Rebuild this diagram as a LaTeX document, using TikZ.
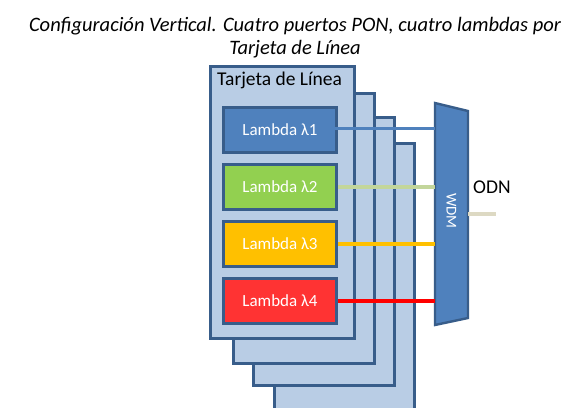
\documentclass[tikz,border=0pt]{standalone}
\usepackage{fontspec}
\setmainfont{Carlito}
\definecolor{cardfill}{HTML}{B9CDE5}
\definecolor{cardline}{HTML}{385D8A}
\definecolor{blueA}{HTML}{4F81BD}
\definecolor{greenA}{HTML}{92D050}
\definecolor{orangeA}{HTML}{FFC000}
\definecolor{redA}{HTML}{FF3333}
\definecolor{lgreen}{HTML}{C3D69B}
\definecolor{odnline}{HTML}{DDD9C3}
\begin{document}
\begin{tikzpicture}[x=1pt,y=-1pt,
  card/.style={draw=cardline,fill=cardfill,line width=3pt,anchor=north west,inner sep=0pt,minimum width=#1},
  lam/.style={draw=cardline,line width=3pt,anchor=north west,inner sep=0pt,minimum width=113pt,minimum height=45pt,text=white,font=\fontsize{17}{19}\selectfont},
  wire/.style={line width=3.2pt}]
\useasboundingbox (0,0) rectangle (581,407);
\clip (0,0) rectangle (581,407);
\node[font=\itshape\fontsize{20.5}{23}\selectfont,align=center] (title) at (295,38)
  {Configuración Vertical. Cuatro puertos PON, cuatro lambdas por\\Tarjeta de Línea};
\node[card=140pt,minimum height=280pt] (c4) at (273,142) {};
\node[card=141pt,minimum height=268pt] (c3) at (252,116) {};
\node[card=141pt,minimum height=270pt] (c2) at (232,92) {};
\node[card=144pt,minimum height=272pt] (c1) at (209,65) {};
\node[font=\fontsize{19.5}{21}\selectfont,anchor=base west,inner sep=0pt] (ct) at (217,85) {Tarjeta de Línea};
\node[lam,fill=blueA] (l1) at (222,106) {Lambda λ1};
\node[lam,fill=greenA] (l2) at (222,163) {Lambda λ2};
\node[lam,fill=orangeA] (l3) at (222,220) {Lambda λ3};
\node[lam,fill=redA] (l4) at (222,277) {Lambda λ4};
\coordinate (w1) at (435,103);
\coordinate (w2) at (468,111);
\coordinate (w3) at (468,318);
\coordinate (w4) at (435,325);
\draw[draw=cardline,fill=blueA,line width=2.4pt,line join=miter] (w1) -- (w2) -- (w3) -- (w4) -- cycle;
\node[rotate=-90,text=white,font=\fontsize{15}{17}\selectfont] (wdm) at (451.5,211) {WDM};
\coordinate (l1s) at (318,128.5);
\draw[wire,draw=blueA] (l1s) -- (l1s -| w1);
\draw[wire,draw=lgreen] (l2.east) -- (l2.east -| w1);
\draw[wire,draw=orangeA] (l3.east) -- (l3.east -| w1);
\draw[wire,draw=red] (l4.east) -- (l4.east -| w1);
\coordinate (odnS) at (468,214);
\coordinate (odnE) at (496,214);
\draw[wire,draw=odnline] (odnS) -- (odnE);
\node[font=\fontsize{19.5}{21}\selectfont,anchor=west,inner sep=0pt] (odn) at (473,187) {ODN};
\end{tikzpicture}
\end{document}
